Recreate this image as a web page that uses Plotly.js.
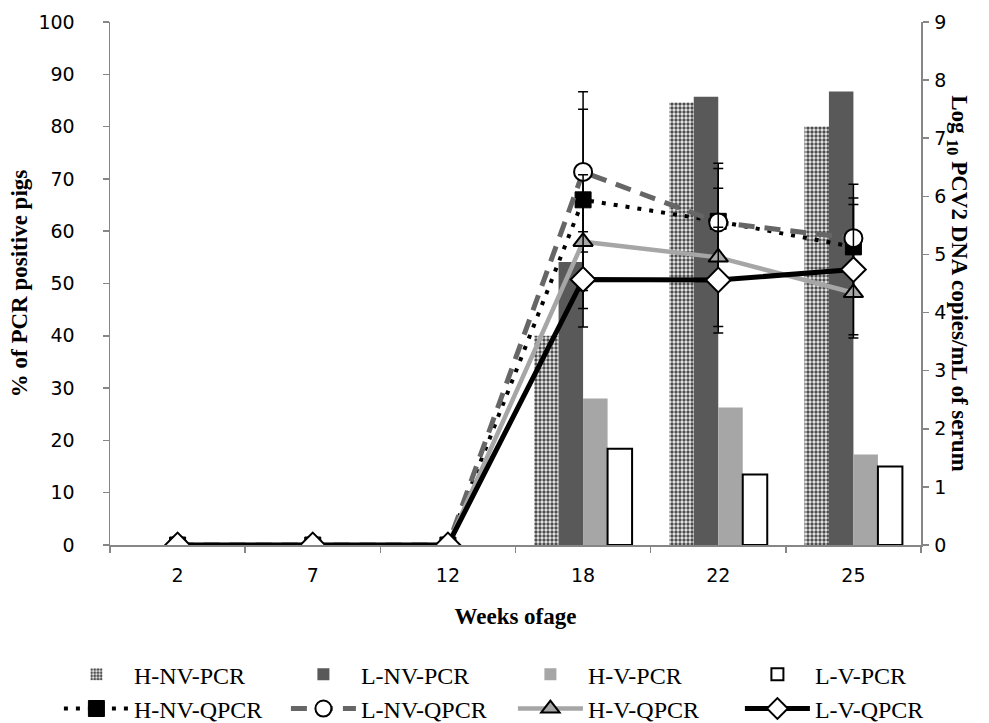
<!DOCTYPE html>
<html>
<head>
<meta charset="utf-8">
<script src="https://cdn.plot.ly/plotly-3.0.1.min.js"></script>
<style>html,body{margin:0;padding:0;background:#fff;}#chart{width:989px;height:723px;}</style>
</head>
<body>
<div id="chart"></div>
<script>
// ---- data ----
var weeks = ['2', '7', '12', '18', '22', '25'];

// % of PCR positive pigs (left axis)
var hnvPcr = [0, 0, 0, 40, 84.6, 80];
var lnvPcr = [0, 0, 0, 54.1, 85.7, 86.7];
var hvPcr  = [0, 0, 0, 28, 26.3, 17.3];
var lvPcr  = [0, 0, 0, 18.4, 13.5, 15];

// Log10 PCV2 DNA copies/mL of serum (right axis)
var hnvQ = [0, 0, 0, 5.94, 5.57, 5.13];
var lnvQ = [0, 0, 0, 6.42, 5.55, 5.28];
var hvQ  = [0, 0, 0, 5.22, 4.95, 4.34];
var lvQ  = [0, 0, 0, 4.57, 4.56, 4.74];

var hnvQErr = [0, 0, 0, 1.56, 0.91, 0.84];
var lnvQErr = [0, 0, 0, 1.38, 1.02, 0.93];
var hvQErr  = [0, 0, 0, 1.15, 1.19, 0.78];
var lvQErr  = [0, 0, 0, 0.82, 0.91, 1.12];

var yLeftTicks = [0, 10, 20, 30, 40, 50, 60, 70, 80, 90, 100];
var yRightTicks = [0, 1, 2, 3, 4, 5, 6, 7, 8, 9];

// ---- styling ----
var serif = 'Liberation Serif, Times New Roman, serif';
var sans = 'DejaVu Sans, sans-serif';
var axisGrey = '#868686';

function err(arr) {
  return {type: 'data', array: arr, visible: true, color: '#000', thickness: 1.5, width: 5};
}
// zero-height outlined bars would leave a stroke on the baseline; draw them as empty
function hideZero(arr) { return arr.map(function (v) { return v === 0 ? null : v; }); }

var traces = [
  {type: 'bar', name: 'H-NV-PCR', x: weeks, y: hnvPcr, yaxis: 'y',
   marker: {color: '#ffffff', line: {width: 0},
            pattern: {shape: '.', fgcolor: '#4d4d4d', bgcolor: '#eeeeee', size: 4, solidity: 0.55}}},
  {type: 'bar', name: 'L-NV-PCR', x: weeks, y: lnvPcr, yaxis: 'y',
   marker: {color: '#595959', line: {width: 0}}},
  {type: 'bar', name: 'H-V-PCR', x: weeks, y: hvPcr, yaxis: 'y',
   marker: {color: '#a6a6a6', line: {width: 0}}},
  {type: 'bar', name: 'L-V-PCR', x: weeks, y: hideZero(lvPcr), yaxis: 'y',
   marker: {color: '#ffffff', line: {color: '#000000', width: 2}}},

  {type: 'scatter', mode: 'lines+markers', name: 'H-NV-QPCR', x: weeks, y: hnvQ, yaxis: 'y2',
   line: {color: '#000000', width: 4, dash: '4px,8px'},
   marker: {symbol: 'square', size: 16, color: '#000000', line: {color: '#000', width: 1}},
   error_y: err(hnvQErr)},
  {type: 'scatter', mode: 'lines+markers', name: 'L-NV-QPCR', x: weeks, y: lnvQ, yaxis: 'y2',
   line: {color: '#666666', width: 5, dash: '16px,10px'},
   marker: {symbol: 'circle', size: 18, color: '#ffffff', line: {color: '#000', width: 2}},
   error_y: err(lnvQErr)},
  {type: 'scatter', mode: 'lines+markers', name: 'H-V-QPCR', x: weeks, y: hvQ, yaxis: 'y2',
   line: {color: '#a6a6a6', width: 4.5},
   marker: {symbol: 'triangle-up', size: 17, color: '#a6a6a6', line: {color: '#000', width: 2}},
   error_y: err(hvQErr)},
  {type: 'scatter', mode: 'lines+markers', name: 'L-V-QPCR', x: weeks, y: lvQ, yaxis: 'y2',
   line: {color: '#000000', width: 5},
   marker: {symbol: 'diamond', size: 19, color: '#ffffff', line: {color: '#000', width: 2}},
   error_y: err(lvQErr)}
];

var layout = {
  width: 989, height: 723,
  margin: {l: 110, r: 68, t: 22, b: 178, pad: 0, autoexpand: false},
  paper_bgcolor: '#ffffff', plot_bgcolor: '#ffffff',
  barmode: 'group', bargap: 0.275, bargroupgap: 0,
  font: {family: sans, size: 18, color: '#000'},
  xaxis: {
    type: 'category', categoryorder: 'array', categoryarray: weeks,
    showline: true, linecolor: axisGrey, linewidth: 1.5,
    ticks: 'outside', tickson: 'boundaries', ticklen: 6, tickcolor: axisGrey, tickwidth: 1.5,
    tickfont: {family: sans, size: 19, color: '#000'}, ticklabelstandoff: 13,
    showgrid: false, zeroline: false,
    title: {text: '<b>Weeks ofage</b>', font: {family: serif, size: 23, color: '#000'}, standoff: 22}
  },
  yaxis: {
    range: [0, 100], tickvals: yLeftTicks, ticktext: yLeftTicks.map(String),
    showline: true, linecolor: axisGrey, linewidth: 1.5,
    ticks: 'outside', ticklen: 6, tickcolor: axisGrey, tickwidth: 1.5,
    tickfont: {family: sans, size: 19, color: '#000'}, ticklabelstandoff: 24,
    showgrid: false, zeroline: false,
    title: {text: '<b>% of PCR positive pigs</b>', font: {family: serif, size: 23, color: '#000'}, standoff: 4}
  },
  yaxis2: {
    overlaying: 'y', side: 'right', range: [0, 9],
    tickvals: yRightTicks, ticktext: yRightTicks.map(String),
    showline: true, linecolor: axisGrey, linewidth: 1.5,
    ticks: 'outside', ticklen: 6, tickcolor: axisGrey, tickwidth: 1.5,
    tickfont: {family: sans, size: 19, color: '#000'}, ticklabelstandoff: 2,
    showgrid: false, zeroline: false
  },
  annotations: [{
    text: '<b>Log <sub>10</sub> PCV2 DNA copies/mL of serum</b>',
    xref: 'paper', yref: 'paper', x: 1.046, y: 0.5, xanchor: 'center', yanchor: 'middle',
    textangle: 90, showarrow: false,
    font: {family: serif, size: 23, color: '#000'}
  }],
  showlegend: true,
  legend: {
    orientation: 'h', xref: 'paper', yref: 'paper',
    x: -0.063, y: -0.205, xanchor: 'left', yanchor: 'top',
    itemwidth: 65, entrywidth: 147, entrywidthmode: 'pixels',
    traceorder: 'normal', tracegroupgap: 0,
    font: {family: serif, size: 24, color: '#000'},
    bgcolor: 'rgba(0,0,0,0)', borderwidth: 0
  }
};

Plotly.newPlot('chart', traces, layout, {displayModeBar: false, staticPlot: true});
</script>
</body>
</html>
